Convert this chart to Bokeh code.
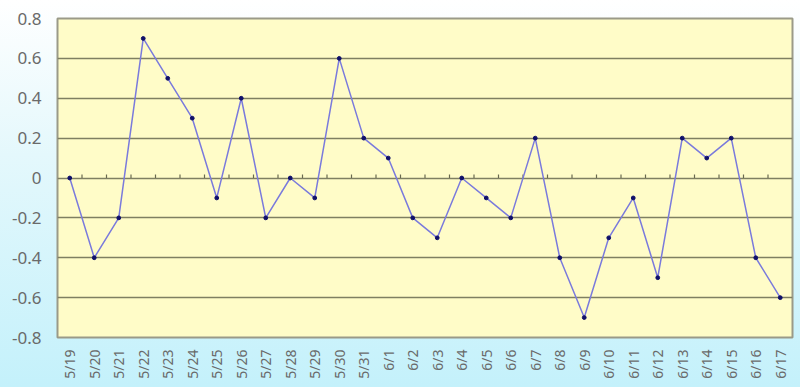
from bokeh.plotting import figure
from bokeh.embed import file_html
from bokeh.resources import INLINE
from bokeh.models import FixedTicker, ColumnDataSource

dates = ["5/19", "5/20", "5/21", "5/22", "5/23", "5/24", "5/25", "5/26", "5/27", "5/28",
         "5/29", "5/30", "5/31", "6/1", "6/2", "6/3", "6/4", "6/5", "6/6", "6/7",
         "6/8", "6/9", "6/10", "6/11", "6/12", "6/13", "6/14", "6/15", "6/16", "6/17"]
values = [0.0, -0.4, -0.2, 0.7, 0.5, 0.3, -0.1, 0.4, -0.2, 0.0,
          -0.1, 0.6, 0.2, 0.1, -0.2, -0.3, 0.0, -0.1, -0.2, 0.2,
          -0.4, -0.7, -0.3, -0.1, -0.5, 0.2, 0.1, 0.2, -0.4, -0.6]
y_ticks = [-0.8, -0.6, -0.4, -0.2, 0.0, 0.2, 0.4, 0.6, 0.8]
y_labels = ["-0.8", "-0.6", "-0.4", "-0.2", "0", "0.2", "0.4", "0.6", "0.8"]

src = ColumnDataSource(dict(x=dates, y=values))

p = figure(width=800, height=387, x_range=dates, y_range=(-0.8, 0.8),
           output_backend="svg", toolbar_location=None,
           min_border_left=57, min_border_right=8, min_border_top=18, min_border_bottom=50)
p.border_fill_alpha = 0
p.background_fill_color = "#fffcc8"
p.outline_line_color = "#9a9a88"
p.outline_line_width = 2

p.xgrid.grid_line_color = None
p.ygrid.ticker = FixedTicker(ticks=y_ticks[1:-1])
p.ygrid.grid_line_color = "#7f7f62"
p.ygrid.grid_line_width = 1.6

p.yaxis.ticker = FixedTicker(ticks=y_ticks)
p.yaxis.major_label_overrides = {t: l for t, l in zip(y_ticks, y_labels)}
p.yaxis.axis_line_color = None
p.yaxis.major_tick_line_color = None
p.yaxis.minor_tick_line_color = None
p.yaxis.major_label_text_font = "Noto Sans"
p.yaxis.major_label_text_font_size = "17px"
p.yaxis.major_label_text_color = "#6a6a6a"
p.yaxis.major_label_standoff = 10

p.xaxis.axis_line_color = None
p.xaxis.major_tick_line_color = None
p.xaxis.major_label_orientation = 1.5708
p.xaxis.major_label_text_font = "Noto Sans"
p.xaxis.major_label_text_font_size = "14px"
p.xaxis.major_label_text_color = "#6a6a6a"
p.xaxis.major_label_standoff = 6

# tick marks on the zero line at category boundaries
bounds = list(range(1, len(dates)))
p.segment(x0=bounds, y0=[0] * len(bounds), x1=bounds, y1=[0.018] * len(bounds),
          line_color="#6a6a50", line_width=1.2)

p.line("x", "y", source=src, line_color="#7a7adc", line_width=1.5)
p.scatter("x", "y", source=src, size=3.8, fill_color="#10106a", line_color="#10106a")

html = file_html(p, INLINE)
style = ("<style>html,body{margin:0;padding:0;height:387px;"
         "background:linear-gradient(to bottom,#ffffff 0%,#e4f8fc 40%,#c4f1fb 100%);}</style>")
html = html.replace("<head>", "<head>" + style, 1)
open("out.html", "w").write(html)
